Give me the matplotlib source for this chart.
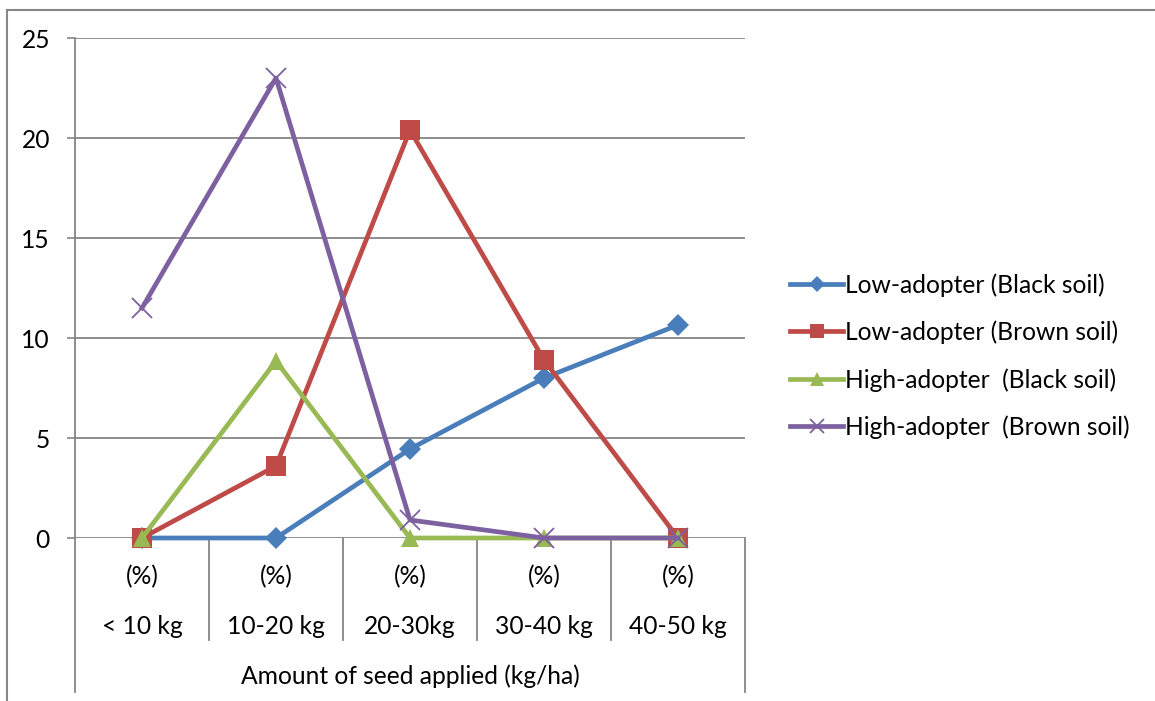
import numpy as np
import matplotlib
matplotlib.use('Agg')
import matplotlib.pyplot as plt
from matplotlib.lines import Line2D
from matplotlib.transforms import blended_transform_factory

plt.rcParams['font.family'] = ['Lato', 'DejaVu Sans']

# Data
categories = ['< 10 kg', '10-20 kg', '20-30kg', '30-40 kg', '40-50 kg']
unit_labels = ['(%)', '(%)', '(%)', '(%)', '(%)']
low_black = [0, 0, 4.45, 8.0, 10.65]
low_brown = [0, 3.6, 20.4, 8.9, 0]
high_black = [0, 8.85, 0, 0, 0]
high_brown = [11.5, 23.0, 0.9, 0, 0]
series_names = ['Low-adopter (Black soil)', 'Low-adopter (Brown soil)',
                'High-adopter  (Black soil)', 'High-adopter  (Brown soil)']
yticks = [0, 5, 10, 15, 20, 25]

W, H = 1155, 701
fig = plt.figure(figsize=(W / 100, H / 100), dpi=100)
ax = fig.add_axes([75 / W, 163 / H, 670 / W, 500 / H])

grid_col = '#868686'
fs = 17.7

x = np.arange(len(categories))

# series: color, marker, size
styles = [
    ('#4A7EBB', 'D', 11, 0),
    ('#BE4B48', 's', 14, 0),
    ('#98B954', '^', 13, 0),
    ('#7D60A0', 'x', 14, 1.3),
]
data = [low_black, low_brown, high_black, high_brown]
handles = []
for vals, (col, mk, ms, mew), name in zip(data, styles, series_names):
    if mk == 'x':
        h, = ax.plot(x, vals, color=col, lw=3.4, marker=mk, ms=ms, mew=mew,
                     mec=col, label=name, clip_on=False, zorder=3)
    else:
        h, = ax.plot(x, vals, color=col, lw=3.4, marker=mk, ms=ms, mew=0,
                     mfc=col, label=name, clip_on=False, zorder=3)
    handles.append(h)

ax.set_xlim(-0.5, len(categories) - 0.5)
ax.set_ylim(0, 25)
ax.set_yticks(yticks)
ax.set_yticklabels([str(t) for t in yticks], fontsize=fs)
ax.set_xticks([])
ax.tick_params(axis='y', length=6, width=1.2, color=grid_col, pad=12)
ax.yaxis.grid(True, color=grid_col, lw=1.3)
ax.set_axisbelow(True)
for s in ['top', 'right', 'bottom']:
    ax.spines[s].set_visible(False)
ax.spines['left'].set_color(grid_col)
ax.spines['left'].set_linewidth(1.3)

# category axis: labels and separators below the plot
tr = blended_transform_factory(ax.transData, ax.transAxes)
for i, (u, c) in enumerate(zip(unit_labels, categories)):
    ax.text(i, -0.078, u, transform=tr, ha='center', va='center', fontsize=fs)
    ax.text(i, -0.176, c, transform=tr, ha='center', va='center', fontsize=fs)
ax.text(0.5, -0.276, 'Amount of seed applied (kg/ha)', transform=ax.transAxes,
        ha='center', va='center', fontsize=fs)
bounds = np.arange(len(categories) + 1) - 0.5
for b in bounds:
    bottom = -0.308 if b in (bounds[0], bounds[-1]) else -0.204
    ax.plot([b, b], [0, bottom], transform=tr, color=grid_col, lw=1.3,
            clip_on=False, zorder=1)

# outer chart border (top and left visible)
fig.add_artist(Line2D([7 / W, 7 / W], [0, 1 - 9.5 / H], transform=fig.transFigure,
                      color=grid_col, lw=1.5))
fig.add_artist(Line2D([7 / W, 1], [1 - 9.5 / H, 1 - 9.5 / H], transform=fig.transFigure,
                      color=grid_col, lw=1.5))

leg = fig.legend(handles=handles, loc='center left', bbox_to_anchor=(778 / W, 1 - 356 / H),
                 frameon=False, fontsize=fs, handlelength=2.16, handletextpad=0.08,
                 labelspacing=0.97, borderpad=0, markerscale=0.75)

fig.savefig('out.png', dpi=100)
